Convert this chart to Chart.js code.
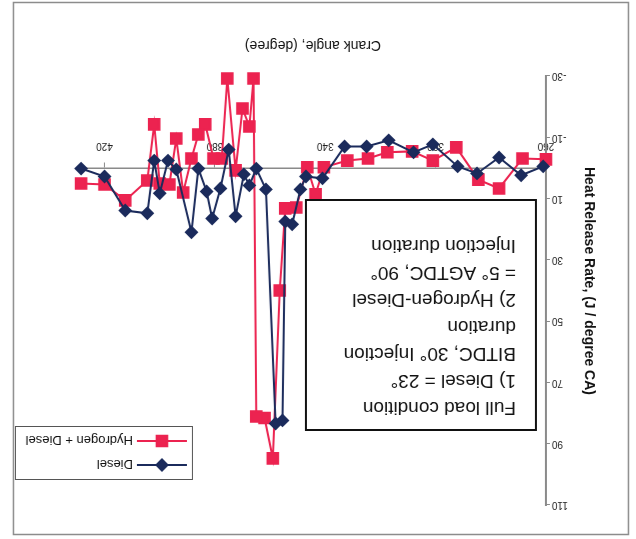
<!DOCTYPE html>
<html>
<head>
<meta charset="utf-8">
<script src="https://cdn.jsdelivr.net/npm/chart.js@4.4.1/dist/chart.umd.min.js"></script>
<style>
  html, body { margin: 0; padding: 0; background: #fff; }
  #wrap { width: 636px; height: 539px; transform: rotate(180deg); }
  canvas { display: block; }
</style>
</head>
<body>
<div id="wrap"><canvas id="hrr" width="636" height="539"></canvas></div>
<script>
// Crank-angle axis labels and heat-release axis labels
const crankTicks = [260, 300, 340, 380, 420];
const hrrTicks = [-30, -10, 10, 30, 50, 70, 90, 110];

// Diesel only: crank angle (deg) and heat release rate (J/deg CA)
const dieselAngle = [261, 269, 277, 285, 292, 301, 308, 317, 325, 333,
                     341, 347, 349, 352, 354.5, 355.5, 358, 361.5, 365, 367.5,
                     369.5, 372.5, 375, 378, 381, 383, 386, 388.5, 394, 397,
                     400, 402, 404.5, 412.5, 420, 428.5];
const dieselHRR = [-0.5, 2.4, -3.4, 1.8, -0.5, -7.7, -5.1, -9.0, -7.0, -7.0,
                   3.4, 2.8, 7.0, 18.4, 17.5, 82.4, 83.4, 7.0, 0.2, 5.7,
                   2.1, 15.8, -6.0, 6.7, 16.5, 7.7, 0.2, 21.0, 0.5, -2.4,
                   8.3, -2.4, 14.8, 13.9, 2.8, 0.2];

// Hydrogen + Diesel: crank angle (deg) and heat release rate (J/deg CA)
const h2Angle = [260, 268.5, 277, 284.5, 292.5, 301, 308.5, 317.5, 324.5, 332,
                 340.5, 343.5, 346.5, 350.5, 354.5, 356.5, 359, 362, 365, 366,
                 367.5, 370, 372.5, 375.5, 377.5, 380.5, 383.5, 386, 388.5, 391.5,
                 394, 396.5, 400, 402, 404.5, 412.5, 420, 428.5];
const h2HRR = [-2.8, -3.1, 6.7, 3.8, -6.7, -2.4, -5.4, -5.1, -3.1, -2.4,
               -0.2, 8.6, -0.2, 12.9, 13.2, 40.0, 94.8, 81.6, 81.1, -29.2,
               -13.5, -19.4, 0.8, -29.2, -3.1, -3.1, -14.2, -10.9, -3.1, 8.0,
               -9.6, 5.4, 5.1, -14.2, 4.1, 10.6, 5.4, 5.1];

const seriesNames = ['Diesel', 'Hydrogen + Diesel'];
const noteLines = [
  'Full load condition',
  '1) Diesel = 23\u00b0',
  'BITDC, 30\u00b0 Injection',
  'duration',
  '2) Hydrogen-Diesel',
  '= 5\u00b0 AGTDC, 90\u00b0',
  'Injection duration'
];
const xTitle = 'Crank angle, (degree)';
const yTitle = 'Heat Release Rate, (J / degree CA)';

const NAVY = '#1b2b5c';
const RED = '#ec2350';
const AXIS = '#8a8a8a';
const FONT = '"Liberation Sans", Arial, sans-serif';

const pts = (xs, ys) => xs.map((x, i) => ({ x: x, y: ys[i] }));

// Frame, axis titles, note box and legend
const decorations = {
  id: 'decorations',
  beforeDraw(chart) {
    const ctx = chart.ctx;
    ctx.save();
    ctx.fillStyle = '#fff';
    ctx.fillRect(0, 0, chart.width, chart.height);
    ctx.strokeStyle = '#8c8c8c';
    ctx.lineWidth = 1.5;
    ctx.strokeRect(7.5, 4.5, 615, 532);
    ctx.restore();
  },
  afterDraw(chart) {
    const ctx = chart.ctx;
    ctx.save();
    ctx.fillStyle = '#111';
    ctx.textAlign = 'center';
    ctx.textBaseline = 'middle';

    // x-axis title
    ctx.font = '14px ' + FONT;
    ctx.fillText(xTitle, 323, 494);

    // y-axis title
    ctx.save();
    ctx.translate(47, 258);
    ctx.rotate(-Math.PI / 2);
    ctx.font = 'bold 14px ' + FONT;
    ctx.fillText(yTitle, 0, 0);
    ctx.restore();

    // note box
    ctx.fillStyle = '#fff';
    ctx.fillRect(100, 109, 230, 230);
    ctx.strokeStyle = '#111';
    ctx.lineWidth = 2;
    ctx.strokeRect(100, 109, 230, 230);
    ctx.fillStyle = '#111';
    ctx.textAlign = 'left';
    ctx.font = '19px ' + FONT;
    noteLines.forEach((t, i) => ctx.fillText(t, 120, 132 + 27 * i));

    // legend
    ctx.fillStyle = '#fff';
    ctx.fillRect(443, 59, 177, 53);
    ctx.strokeStyle = '#555';
    ctx.lineWidth = 1;
    ctx.strokeRect(443.5, 59.5, 177, 53);
    ctx.font = '13px ' + FONT;
    chart.data.datasets.forEach((ds, i) => {
      const y = 74 + 24 * i;
      ctx.strokeStyle = ds.borderColor;
      ctx.lineWidth = 2;
      ctx.beginPath();
      ctx.moveTo(449, y);
      ctx.lineTo(499, y);
      ctx.stroke();
      ctx.fillStyle = ds.pointBackgroundColor;
      ctx.strokeStyle = ds.pointBorderColor;
      Chart.helpers.drawPoint(ctx, {
        pointStyle: ds.pointStyle, radius: ds.pointRadius, borderWidth: 1, rotation: 0
      }, 474, y);
      ctx.fillStyle = '#111';
      ctx.fillText(ds.label, 503, y + 1);
    });
    ctx.restore();
  }
};

new Chart(document.getElementById('hrr'), {
  type: 'scatter',
  data: {
    datasets: [
      {
        label: seriesNames[0],
        data: pts(dieselAngle, dieselHRR),
        showLine: true,
        borderColor: NAVY,
        borderWidth: 2,
        pointStyle: 'rectRot',
        pointRadius: 5.5,
        pointBackgroundColor: NAVY,
        pointBorderColor: NAVY,
        tension: 0,
        clip: false
      },
      {
        label: seriesNames[1],
        data: pts(h2Angle, h2HRR),
        showLine: true,
        borderColor: RED,
        borderWidth: 2,
        pointStyle: 'rect',
        pointRadius: 7.5,
        pointBackgroundColor: RED,
        pointBorderColor: RED,
        tension: 0,
        clip: false
      }
    ]
  },
  options: {
    responsive: false,
    animation: false,
    devicePixelRatio: 1,
    layout: { padding: { left: 38, right: 77, top: 34, bottom: 76 } },
    plugins: { legend: { display: false }, tooltip: { enabled: false } },
    scales: {
      x: {
        type: 'linear',
        position: { y: 0 },
        min: 260,
        max: 430,
        afterBuildTicks: s => { s.ticks = crankTicks.map(v => ({ value: v })); },
        grid: { drawOnChartArea: false, drawTicks: true, tickLength: 5, color: AXIS },
        border: { display: true, color: AXIS, width: 1.5 },
        ticks: {
          autoSkip: false, maxRotation: 0, padding: 11, color: '#222',
          font: { size: 10, family: FONT }
        }
      },
      y: {
        type: 'linear',
        position: 'left',
        min: -30,
        max: 110,
        afterBuildTicks: s => { s.ticks = hrrTicks.map(v => ({ value: v })); },
        afterFit: s => { s.width = 52; },
        grid: { drawOnChartArea: false, drawTicks: true, tickLength: 4, color: AXIS },
        border: { display: true, color: AXIS, width: 2 },
        ticks: { padding: 2, color: '#222', font: { size: 10, family: FONT } }
      }
    }
  },
  plugins: [decorations]
});
</script>
</body>
</html>
